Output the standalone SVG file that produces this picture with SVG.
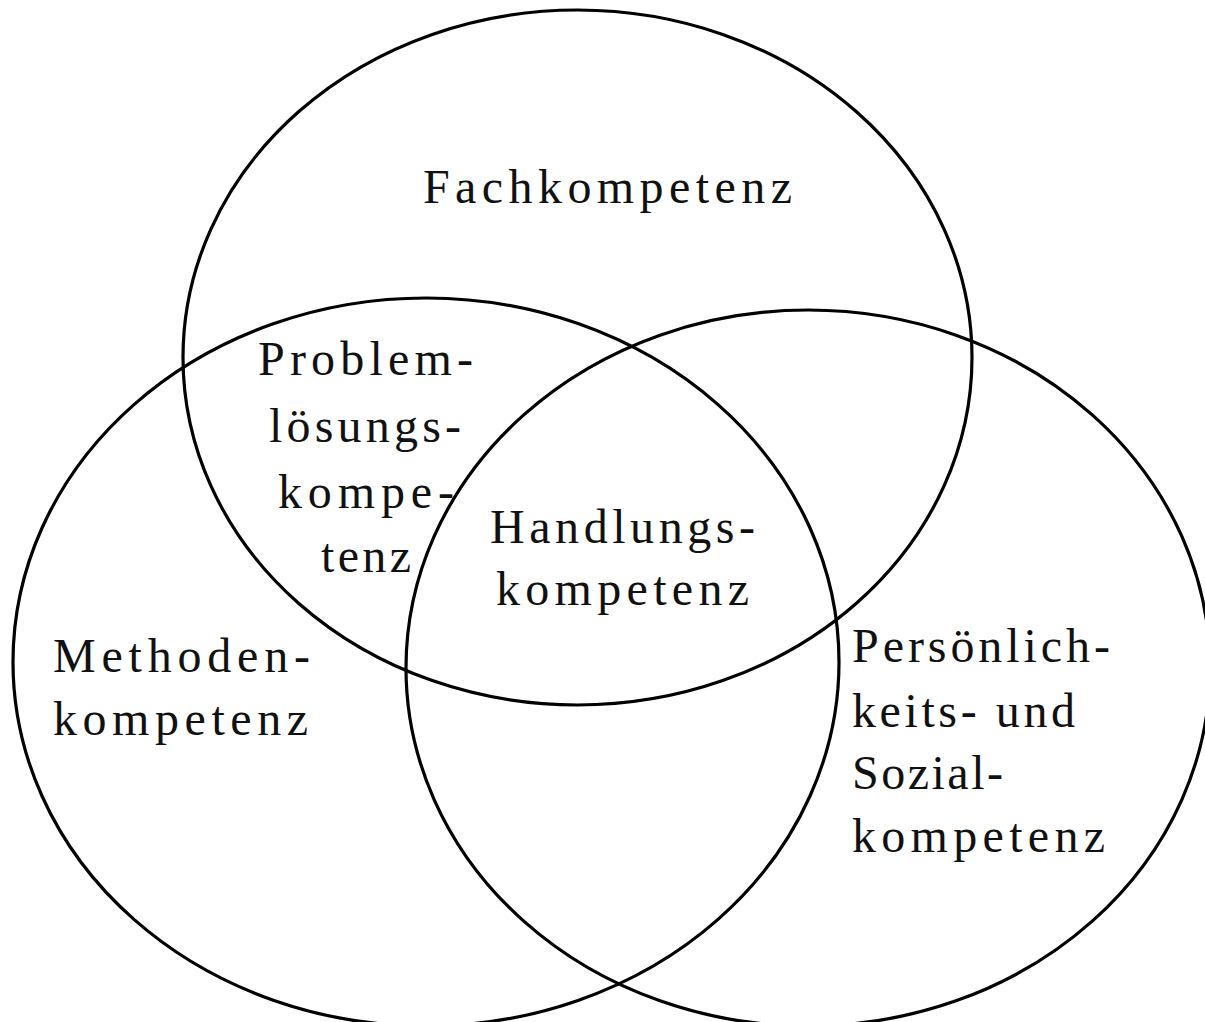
<svg xmlns="http://www.w3.org/2000/svg" width="1205" height="1022" viewBox="0 0 1205 1022">
<style>
.ring{fill:none;stroke:#000;stroke-width:3.2}
.t{font-family:"Liberation Serif","Times New Roman",serif;font-size:48px;fill:#111}
</style>
<rect width="1205" height="1022" fill="#fff"/>
<g id="fach">
<ellipse class="ring" cx="577.5" cy="357.5" rx="394.5" ry="347.5"/>
<text class="t" x="423" y="203" textLength="369" lengthAdjust="spacing">Fachkompetenz</text>
</g>
<g id="methoden">
<ellipse class="ring" cx="426" cy="662" rx="413" ry="364"/>
<text class="t" x="53" y="672" textLength="257" lengthAdjust="spacing">Methoden-</text>
<text class="t" x="53" y="735" textLength="255" lengthAdjust="spacing">kompetenz</text>
</g>
<g id="sozial">
<ellipse class="ring" cx="808" cy="668" rx="402" ry="358"/>
<text class="t" x="852" y="662" textLength="258" lengthAdjust="spacing">Persönlich-</text>
<text class="t" x="852" y="727" textLength="223" lengthAdjust="spacing">keits- und</text>
<text class="t" x="852" y="789" textLength="151" lengthAdjust="spacing">Sozial-</text>
<text class="t" x="852" y="852" textLength="253" lengthAdjust="spacing">kompetenz</text>
</g>
<g id="problem">
<text class="t" x="258" y="375" textLength="215" lengthAdjust="spacing">Problem-</text>
<text class="t" x="269" y="442" textLength="192" lengthAdjust="spacing">lösungs-</text>
<text class="t" x="278" y="508" textLength="176" lengthAdjust="spacing">kompe-</text>
<text class="t" x="321" y="572" textLength="90" lengthAdjust="spacing">tenz</text>
</g>
<g id="handlung">
<text class="t" x="490" y="543" textLength="265" lengthAdjust="spacing">Handlungs-</text>
<text class="t" x="496" y="605" textLength="253" lengthAdjust="spacing">kompetenz</text>
</g>
<g id="connectors"></g>
</svg>
